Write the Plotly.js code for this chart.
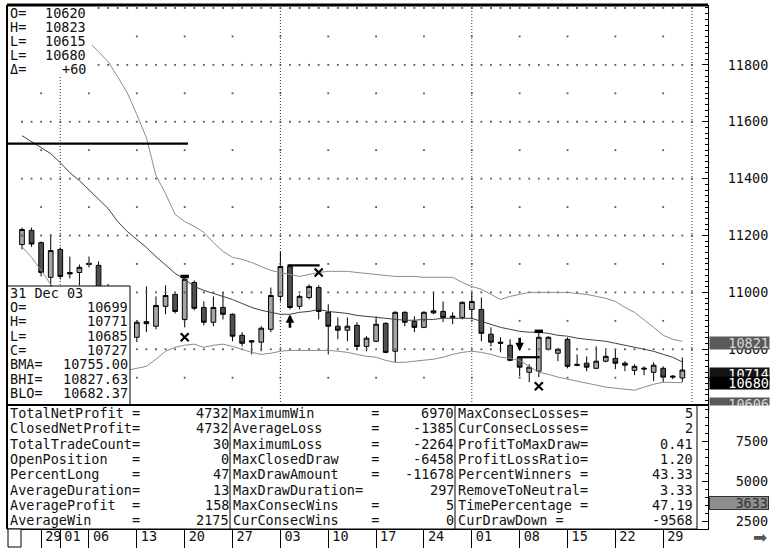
<!DOCTYPE html>
<html><head><meta charset="utf-8">
<script src="https://cdn.plot.ly/plotly-3.0.1.min.js"></script>
<style>html,body{margin:0;padding:0;background:#fff;} #chart{width:771px;height:548px;}</style>
</head><body><div id="chart"></div>
<script>
// ---------- data ----------
const dates = [
'2003-09-25','2003-09-26','2003-09-29','2003-09-30',
'2003-10-01','2003-10-02','2003-10-03','2003-10-06','2003-10-07','2003-10-08','2003-10-09','2003-10-10',
'2003-10-13','2003-10-14','2003-10-15','2003-10-16','2003-10-17','2003-10-20','2003-10-21','2003-10-22','2003-10-23','2003-10-24',
'2003-10-27','2003-10-28','2003-10-29','2003-10-30','2003-10-31',
'2003-11-03','2003-11-04','2003-11-05','2003-11-06','2003-11-07','2003-11-10','2003-11-11','2003-11-12','2003-11-13','2003-11-14',
'2003-11-17','2003-11-18','2003-11-19','2003-11-20','2003-11-21','2003-11-24','2003-11-25','2003-11-26','2003-11-27','2003-11-28',
'2003-12-01','2003-12-02','2003-12-03','2003-12-04','2003-12-05','2003-12-08','2003-12-09','2003-12-10','2003-12-11','2003-12-12',
'2003-12-15','2003-12-16','2003-12-17','2003-12-18','2003-12-19','2003-12-22','2003-12-23','2003-12-24','2003-12-25','2003-12-26',
'2003-12-29','2003-12-30','2003-12-31'];

const openP = [11168,11218,11175,11053,11151,11070,11070,11098,11095,11010,10950,10880,
10842,10897,10881,10951,10993,10905,11035,10947,10895,10947,10923,10849,10830,10825,10870,10986,
11091,10951,10982,11017,10930,10881,10867,10884,10810,10828,10891,10793,10930,10898,10877,10935,10933,10912,10912,10940,
10940,10853,10825,10814,10772,10719,10723,10800,10786,10835,10747,10751,10733,10758,10768,10751,10726,10730,10719,10733,10702,10699];
const highP = [11228,11228,11179,11204,11158,11126,11098,11126,11109,11030,10970,10900,
10902,11021,10986,11025,10996,11056,11042,10968,10986,11000,10926,10860,10832,10881,11017,11144,
11098,10993,11028,11025,10958,10912,10912,10895,10846,10916,10895,10933,10933,10916,10933,11000,10968,10930,10968,11000,
10982,10877,10842,10835,10775,10747,10863,10846,10804,10842,10782,10775,10810,10796,10800,10758,10747,10740,10754,10740,10709,10771];
const lowP = [11151,11160,11056,11011,11046,11049,11025,11088,10990,10930,10860,10820,
10825,10860,10870,10923,10926,10877,10937,10884,10881,10905,10828,10810,10782,10793,10860,10968,
10940,10940,10975,10905,10782,10835,10828,10800,10793,10825,10786,10754,10881,10860,10874,10923,10895,10888,10905,10905,
10828,10810,10789,10758,10705,10684,10702,10796,10758,10733,10740,10723,10730,10754,10730,10723,10709,10709,10688,10684,10695,10685];
const closeP = [11221,11170,11070,11147,11056,11065,11088,11102,11010,10950,10880,10850,
10895,10890,10954,10989,10933,11046,10944,10895,10947,10923,10846,10821,10826,10874,10989,11091,
10947,10986,11021,10933,10881,10867,10881,10810,10839,10888,10789,10930,10895,10877,10930,10928,10912,10916,10965,10968,
10856,10825,10821,10761,10737,10737,10842,10842,10800,10740,10744,10737,10758,10775,10751,10744,10740,10733,10744,10702,10705,10727];

const bandMid = [11551,11530,11509,11488,11456,11421,11393,11361,11330,
11295,11249,11214,
11186,11158,11126,11095,11067,11046,11021,11007,
10996,10986,10975,10961,10947,10937,10930,10923,
10923,10930,10933,10940,10933,10930,10926,10919,
10916,10912,10909,10905,10902,10902,10905,10905,
10909,10909,10909,10909,10898,10888,10877,10870,
10863,10860,10860,10856,10849,10846,10839,10835,
10832,10828,10821,10814,10807,10800,10793,10782,
10772,10755.00];
const bandHigh = [11940,11944,11944,11940,11933,11923,11905,11881,
11846,11811,11758,11702,11625,11544,11411,11347,
11274,11249,11232,11211,11175,11144,11123,11116,
11105,11091,11077,11070,11063,11056,11063,11070,
11074,11074,11074,11070,11067,11063,11060,11056,
11056,11056,11053,11053,11053,11053,11035,11021,
11011,10993,10975,10986,10993,11000,11000,11000,
11000,11000,10996,10993,10986,10979,10968,10947,
10930,10905,10877,10849,10835,10827.63];
const bandLow = [11161,11123,11077,11028,10979,10919,10881,10842,
10814,10779,10740,10726,10733,10740,10765,10793,
10807,10814,10818,10807,10814,10818,10810,10800,
10789,10782,10786,10793,10796,10796,10796,10796,
10796,10793,10789,10782,10775,10772,10761,10754,
10754,10758,10761,10765,10772,10782,10789,10793,
10789,10782,10772,10768,10761,10740,10719,10712,
10702,10695,10688,10681,10674,10667,10663,10660,
10656,10667,10677,10684,10684,10682.37];

const tickDates = ['2003-09-29','2003-10-01','2003-10-06','2003-10-13','2003-10-20','2003-10-27','2003-11-03',
'2003-11-10','2003-11-17','2003-11-24','2003-12-01','2003-12-08','2003-12-15','2003-12-22','2003-12-29'];
const tickLabels = ['29','01','06','13','20','27','03','10','17','24','01','08','15','22','29'];
const monthStarts = ['2003-10-01','2003-11-01','2003-12-01','2004-01-01'];

const priceTicks = [10800,11000,11200,11400,11600,11800];
const gridMajorLevels = [10800,11000,11200,11400,11600,11800,12000];
const gridMinorLevels = [10700,10900,11100,11300,11500,11700,11900];

// trade marks
const exitDates = ['2003-10-20','2003-11-07','2003-12-10'];
const exitPrices = [10842,11070,10670];
const capDates = ['2003-10-20','2003-12-10'];
const capPrices = [11056,10863];
const upArrowDates = ['2003-11-04'];
const upArrowPrices = [10923];
const downArrowDates = ['2003-12-08'];
const downArrowPrices = [10793];
const levelPrices = [11523,11095,10772];
const levelFrom = [null,'2003-11-04','2003-12-08'];
const levelTo = ['2003-10-20','2003-11-07','2003-12-10'];

// texts
const topLabels = ['O=','H=','L=','L=','\u0394='];
const topValues = ['10620','10823','10615','10680','+60'];
const infoDate = '31 Dec 03';
const infoLabels = ['O=','H=','L=','C=','BMA=','BHI=','BLO='];
const infoValues = ['10699','10771','10685','10727','10755.00','10827.63','10682.37'];

const statLabels1 = ['TotalNetProfit =','ClosedNetProfit=','TotalTradeCount=','OpenPosition   =','PercentLong    =','AverageDuration=','AverageProfit  =','AverageWin     ='];
const statValues1 = ['4732','4732','30','0','47','13','158','2175'];
const statLabels2 = ['MaximumWin       =','AverageLoss      =','MaximumLoss      =','MaxClosedDraw    =','MaxDrawAmount    =','MaxDrawDuration=','MaxConsecWins    =','CurConsecWins    ='];
const statValues2 = ['6970','-1385','-2264','-6458','-11678','297','5','0'];
const statLabels3 = ['MaxConsecLosses=','CurConsecLosses=','ProfitToMaxDraw=','ProfitLossRatio=','PercentWinners =','RemoveToNeutral=','TimePercentage =','CurDrawDown ='];
const statValues3 = ['5','2','0.41','1.20','43.33','3.33','47.19','-9568'];

const priceMarkers = [10821,10714,10680,10606];
const priceMarkerBg = ['#5a5a5a','#151515','#000000','#5a5a5a'];
const priceMarkerFg = ['#d8d8d8','#ffffff','#ffffff','#d8d8d8'];
const equityMarker = [3633];

// ---------- geometry helpers (pixel layout) ----------
const L = 7, R = 708, T = 5, B = 529, SPLIT = 405;
const W = R - L, H = B - T;
const px2x = X => (X - L) / W;
const px2y = Y => (B - Y) / H;
const splitY = px2y(SPLIT);
const FONT = {family: 'DejaVu Sans Mono, monospace', size: 13.5, color: '#111'};
const nb = s => s.replace(/ /g, '\u00A0');

const idx = d => dates.filter(x => x < d).length;
const xs = dates.map((d, i) => i);

// ---------- traces ----------
const gx = [], gy = [];
gridMajorLevels.forEach(lv => { for (let i = 0; i <= dates.length; i++) { gx.push(i); gy.push(lv); } });
const mondays = tickDates.filter(d => new Date(d + 'T00:00:00Z').getUTCDay() === 1).map(idx);
gridMinorLevels.forEach(lv => mondays.forEach(i => { gx.push(i); gy.push(lv); }));

const traces = [];
traces.push({type: 'scatter', mode: 'markers', x: gx, y: gy, xaxis: 'x', yaxis: 'y',
  marker: {size: 1.8, color: '#555', symbol: 'square'}, hoverinfo: 'skip', cliponaxis: true});
traces.push({type: 'scatter', mode: 'lines', x: xs, y: bandHigh, line: {color: '#8c8c8c', width: 1}, hoverinfo: 'skip'});
traces.push({type: 'scatter', mode: 'lines', x: xs, y: bandLow, line: {color: '#8c8c8c', width: 1}, hoverinfo: 'skip'});
traces.push({type: 'scatter', mode: 'lines', x: xs, y: bandMid, line: {color: '#404040', width: 1}, hoverinfo: 'skip'});
traces.push({type: 'candlestick', x: xs, open: openP, high: highP, low: lowP, close: closeP,
  increasing: {line: {color: '#000', width: 1}, fillcolor: '#a6a6a6'},
  decreasing: {line: {color: '#000', width: 1}, fillcolor: '#505050'},
  whiskerwidth: 0, hoverinfo: 'skip'});
// level / bracket lines
const lx = [], ly = [];
levelPrices.forEach((p, i) => {
  const x0 = levelFrom[i] === null ? -1.6 : idx(levelFrom[i]) - 0.25;
  const x1 = idx(levelTo[i]) + (levelFrom[i] === null ? 0.35 : 0.1);
  lx.push(x0, x1, null); ly.push(p, p, null);
});
traces.push({type: 'scatter', mode: 'lines', x: lx, y: ly, line: {color: '#000', width: 2.2}, hoverinfo: 'skip', connectgaps: false});
traces.push({type: 'scatter', mode: 'markers', x: exitDates.map(idx), y: exitPrices,
  marker: {symbol: 'x-thin', size: 8, line: {width: 2.2, color: '#000'}}, hoverinfo: 'skip'});
traces.push({type: 'scatter', mode: 'markers', x: capDates.map(idx), y: capPrices,
  marker: {symbol: 'line-ew', size: 6, line: {width: 3.5, color: '#000'}}, hoverinfo: 'skip'});
traces.push({type: 'scatter', mode: 'none', x: [xs[xs.length - 1]], y: equityMarker, xaxis: 'x', yaxis: 'y2', hoverinfo: 'skip'});

// ---------- shapes ----------
const shapes = [];
monthStarts.forEach(m => shapes.push({type: 'line', xref: 'x', yref: 'y domain', x0: idx(m), x1: idx(m), y0: 0, y1: 1,
  line: {color: '#333', width: 1, dash: '1px,2px'}, layer: 'below'}));
const rectPx = (x0, y0, x1, y1, fill, lw) => ({type: 'rect', xref: 'paper', yref: 'paper',
  x0: px2x(x0), x1: px2x(x1), y0: px2y(y1), y1: px2y(y0), fillcolor: fill,
  line: {color: '#000', width: lw}, layer: 'above'});
const linePx = (x0, y0, x1, y1, lw) => ({type: 'line', xref: 'paper', yref: 'paper',
  x0: px2x(x0), x1: px2x(x1), y0: px2y(y0), y1: px2y(y1), line: {color: '#000', width: lw}, layer: 'above'});
shapes.push(rectPx(7, 5, 92, 75, '#fff', 0));
shapes.push(rectPx(7, 286, 130, 405, '#fff', 1));
shapes.push(rectPx(7, 405, 697, 529, '#fff', 1));
shapes.push(linePx(230, 405, 230, 529, 1));
shapes.push(linePx(455, 405, 455, 529, 1));
shapes.push(linePx(7, 5, 708, 5, 3));
shapes.push(linePx(7, 5, 7, 529, 2));
shapes.push(linePx(7, 405, 708, 405, 2));
shapes.push(rectPx(8, 529, 21, 547, '#fff', 1));

// ---------- annotations ----------
const ann = [];
const txt = (X, Y, text, anchor, extra) => Object.assign({xref: 'paper', yref: 'paper', x: px2x(X), y: px2y(Y),
  xanchor: anchor, yanchor: 'middle', text: nb(text), showarrow: false, font: FONT, borderpad: 0}, extra || {});
topLabels.forEach((l, i) => { const Y = 13 + i * 14; ann.push(txt(9, Y, l, 'left')); ann.push(txt(87, Y, topValues[i], 'right')); });
ann.push(txt(9, 293, infoDate, 'left'));
infoLabels.forEach((l, i) => { const Y = 307 + i * 14.3; ann.push(txt(9, Y, l, 'left')); ann.push(txt(129, Y, infoValues[i], 'right')); });
const rowY = i => 413 + i * 15.3;
statLabels1.forEach((l, i) => { ann.push(txt(9, rowY(i), l, 'left')); ann.push(txt(229.5, rowY(i), statValues1[i], 'right')); });
statLabels2.forEach((l, i) => { ann.push(txt(232, rowY(i), l, 'left')); ann.push(txt(454.5, rowY(i), statValues2[i], 'right')); });
statLabels3.forEach((l, i) => { ann.push(txt(457, rowY(i), l, 'left')); ann.push(txt(694, rowY(i), statValues3[i], 'right')); });

// price tags on right axis
priceMarkers.forEach((p, i) => ann.push({xref: 'paper', yref: 'y', x: px2x(709), y: p, xanchor: 'left', yanchor: 'middle',
  text: String(p), showarrow: false, width: 59, height: 12, align: 'right', bgcolor: priceMarkerBg[i], borderpad: 0,
  font: Object.assign({}, FONT, {color: priceMarkerFg[i]})}));
ann.push({xref: 'paper', yref: 'paper', x: px2x(709), y: splitY, xanchor: 'left', yanchor: 'top', text: '\u00A0',
  showarrow: false, width: 62, height: 22, bgcolor: '#fff', borderpad: 0, font: FONT});
equityMarker.forEach(v => ann.push({xref: 'paper', yref: 'y2', x: px2x(709), y: v, xanchor: 'left', yanchor: 'middle',
  text: String(v), showarrow: false, width: 58, height: 12, align: 'right', bgcolor: '#8e8e8e', bordercolor: '#333',
  borderwidth: 1, borderpad: 0, font: Object.assign({}, FONT, {color: '#333'})}));
// arrows
upArrowDates.forEach((d, i) => ann.push({xref: 'x', yref: 'y', x: idx(d), y: upArrowPrices[i], ax: 0, ay: 15, text: '',
  showarrow: true, arrowhead: 2, arrowsize: 0.65, arrowwidth: 2.6, arrowcolor: '#000'}));
downArrowDates.forEach((d, i) => ann.push({xref: 'x', yref: 'y', x: idx(d), y: downArrowPrices[i], ax: 0, ay: -15, text: '',
  showarrow: true, arrowhead: 2, arrowsize: 0.65, arrowwidth: 2.6, arrowcolor: '#000'}));
ann.push({xref: 'paper', yref: 'paper', x: px2x(760), y: px2y(537), xanchor: 'center', yanchor: 'middle',
  text: '\u27A1', showarrow: false, font: {family: 'DejaVu Sans', size: 17, color: '#555'}});

// ---------- layout ----------
const yRangePrice = [10604, 12010.5];
const layout = {
  width: 771, height: 548,
  margin: {l: L, r: 771 - R, t: T, b: 548 - B, pad: 0},
  paper_bgcolor: '#fff', plot_bgcolor: '#fff',
  showlegend: false, hovermode: false,
  font: FONT,
  xaxis: {type: 'linear', range: [-1.567, 71.68], domain: [0, 1], anchor: 'y2',
    tickvals: tickDates.map(idx), ticktext: tickLabels, tickangle: 0,
    ticks: 'outside', ticklen: 18, tickwidth: 1, tickcolor: '#000',
    ticklabelposition: 'outside right', ticklabelstandoff: -5, ticklabelshift: 3,
    showgrid: false, zeroline: false, showline: true, linecolor: '#000', linewidth: 1,
    rangeslider: {visible: false}, tickfont: FONT, automargin: false, fixedrange: true},
  yaxis: {domain: [splitY, 1], range: yRangePrice, side: 'right', anchor: 'x',
    tickmode: 'array', tickvals: priceTicks, tickformat: 'd', ticks: 'inside', ticklen: 6, tickcolor: '#000',
    minor: {dtick: 20, tick0: 0, ticks: 'inside', ticklen: 3, tickcolor: '#000', showgrid: false},
    showgrid: false, zeroline: false, showline: true, linecolor: '#000', linewidth: 1,
    ticklabelstandoff: 16, tickfont: FONT, automargin: false, fixedrange: true},
  yaxis2: {domain: [0, splitY], range: [2000, 9750], side: 'right', anchor: 'x',
    tickmode: 'array', tickvals: [2500, 5000, 7500], tickformat: 'd', ticks: 'inside', ticklen: 6, tickcolor: '#000',
    minor: {dtick: 500, tick0: 0, ticks: 'inside', ticklen: 3, tickcolor: '#000', showgrid: false},
    showgrid: false, zeroline: false, showline: true, linecolor: '#000', linewidth: 1,
    ticklabelstandoff: 24, tickfont: FONT, automargin: false, fixedrange: true},
  yaxis3: {overlaying: 'y', side: 'left', range: yRangePrice, anchor: 'x',
    tickmode: 'linear', tick0: 0, dtick: 100, ticks: 'inside', ticklen: 4, tickcolor: '#000',
    minor: {dtick: 100 / 3, tick0: 10800, ticks: 'inside', ticklen: 2, tickcolor: '#000', showgrid: false},
    showticklabels: false, showgrid: false, zeroline: false, showline: false, automargin: false, fixedrange: true},
  shapes: shapes,
  annotations: ann
};
Plotly.newPlot('chart', traces, layout, {staticPlot: true, displayModeBar: false});
</script>
</body></html>
